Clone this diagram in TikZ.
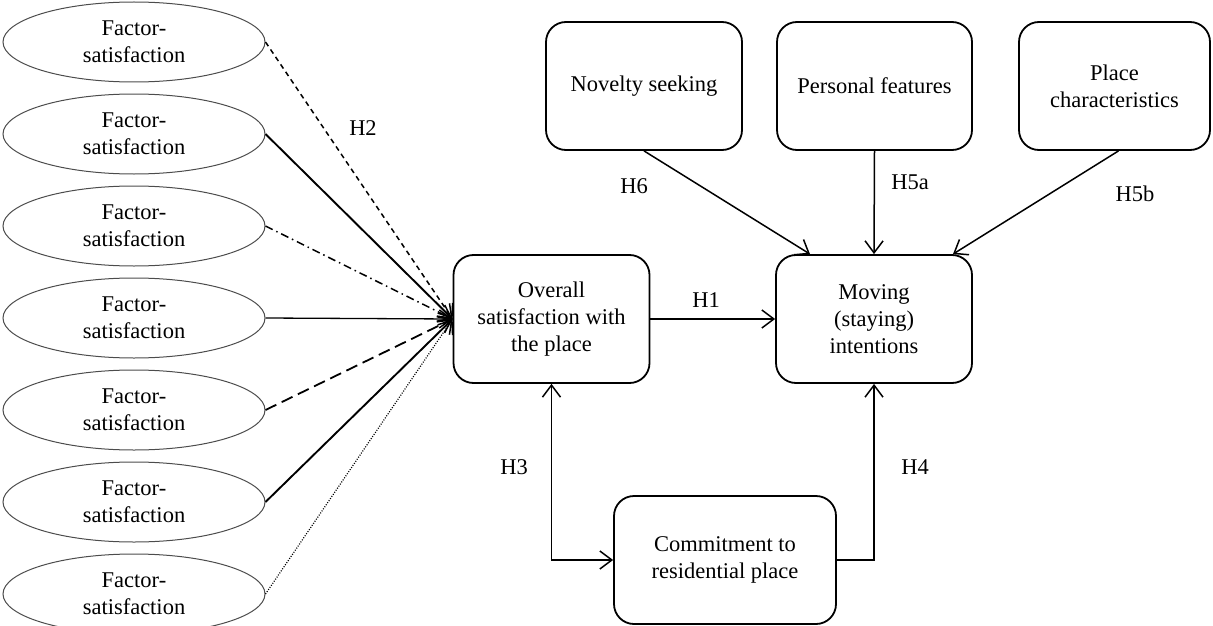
\documentclass[tikz,border=0pt]{standalone}
\usepackage{fontspec}
\setmainfont{Liberation Serif}
\usetikzlibrary{shapes.geometric,arrows.meta}
\tikzset{barbtip/.tip={Straight Barb[length=12pt,width=18pt,line width=1.5pt]}}
\begin{document}
\begin{tikzpicture}[x=1pt,y=-1pt,
  font=\fontsize{22.5}{27}\selectfont,
  factor/.style={ellipse,draw=black!70,line width=1pt,minimum width=262pt,minimum height=80pt,inner sep=0pt,align=center},
  block/.style={rectangle,rounded corners=20pt,draw,line width=1.8pt,minimum width=196pt,minimum height=128pt,inner sep=2pt,align=center},
  link/.style={line width=1.5pt,-barbtip},
  hyp/.style={inner sep=0pt}
]
\useasboundingbox (0,0) rectangle (1213,626);

% Factor satisfaction ellipses
\foreach \i/\y in {1/42,2/134,3/226,4/318,5/410,6/502,7/594}
  \node[factor] (f\i) at (134,\y) {Factor-\\satisfaction};

% Constructs
\node[block] (ov) at (551.5,319) {Overall\\satisfaction with\\the place};
\node[block] (mov) at (874,319) {Moving\\(staying)\\intentions};
\node[block,minimum width=222pt] (com) at (725,560) {Commitment to\\residential place};
\node[block] (nov) at (644,86) {Novelty seeking};
\node[block,minimum width=195pt] (per) at (874.5,86) {Personal features};
\node[block,minimum width=191pt] (pla) at (1114.5,86) {Place\\characteristics};

% Paths from the factor satisfactions
\draw[link,dash pattern=on 5pt off 4pt] (f1.east) -- (ov.west);
\draw[link,line width=1.9pt] (f2.east) -- (ov.west);
\draw[link,dash pattern=on 8pt off 4pt on 1.5pt off 4pt] (f3.east) -- (ov.west);
\draw[link,line width=1.3pt] (f4.east) -- (ov.west);
\draw[link,line width=1.8pt,dash pattern=on 12pt off 6pt] (f5.east) -- (ov.west);
\draw[link,line width=1.9pt] (f6.east) -- (ov.west);
\draw[link,line width=1.2pt,dash pattern=on 1pt off 1.5pt] (f7.east) -- (ov.west);

% Hypothesised relations
\draw[link] (ov.east) -- (mov.west);
\draw[link] (nov.south) -- ([xshift=-64pt]mov.north);
\draw[link] (per.south) -- (mov.north);
\draw[link] ([xshift=4pt]pla.south) -- ([xshift=79pt]mov.north);
\coordinate (c4) at (mov.south |- com.east);
\draw[link] (com.east) -- (c4) -- (mov.south);
\coordinate (c3) at (ov.south |- com.west);
\draw[line width=1.5pt,barbtip-barbtip] (ov.south) -- (c3) -- (com.west);

% Hypothesis labels
\node[hyp] (h1) at (706,300) {H1};
\node[hyp] (h2) at (363,128) {H2};
\node[hyp] (h3) at (514,467) {H3};
\node[hyp] (h4) at (915,467) {H4};
\node[hyp] (h5a) at (910,182) {H5a};
\node[hyp] (h5b) at (1135,194) {H5b};
\node[hyp] (h6) at (634,186) {H6};
\end{tikzpicture}
\end{document}
